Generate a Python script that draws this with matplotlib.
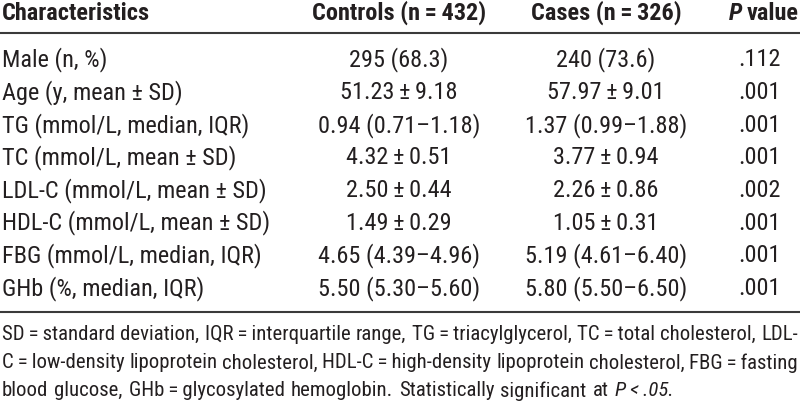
import matplotlib.pyplot as plt

FONT = ['Roboto Condensed', 'Archivo Narrow', 'PT Sans Narrow', 'DejaVu Sans']
plt.rcParams['font.family'] = FONT
INK = '#231f20'

header = ['Characteristics', 'Controls (n\u2009=\u2009432)', 'Cases (n\u2009=\u2009326)', 'P', 'value']
labels = ['Male (n, %)', 'Age (y, mean \u00b1 SD)', 'TG (mmol/L, median, IQR)',
          'TC (mmol/L, mean \u00b1 SD)', 'LDL-C (mmol/L, mean \u00b1 SD)',
          'HDL-C (mmol/L, mean \u00b1 SD)', 'FBG (mmol/L, median, IQR)',
          'GHb (%, median, IQR)']
controls = ['295 (68.3)', '51.23\u2009\u00b1\u20099.18', '0.94 (0.71\u20131.18)', '4.32\u2009\u00b1\u20090.51',
            '2.50\u2009\u00b1\u20090.44', '1.49\u2009\u00b1\u20090.29', '4.65 (4.39\u20134.96)', '5.50 (5.30\u20135.60)']
cases = ['240 (73.6)', '57.97\u2009\u00b1\u20099.01', '1.37 (0.99\u20131.88)', '3.77\u2009\u00b1\u20090.94',
         '2.26\u2009\u00b1\u20090.86', '1.05\u2009\u00b1\u20090.31', '5.19 (4.61\u20136.40)', '5.80 (5.50\u20136.50)']
pvals = ['.112', '.001', '.001', '.001', '.002', '.001', '.001', '.001']
footnote = ('SD\u2009=\u2009standard deviation, IQR\u2009=\u2009interquartile range, '
            'TG\u2009=\u2009triacylglycerol, TC\u2009=\u2009total cholesterol, LDL-|'
            'C\u2009=\u2009low-density lipoprotein cholesterol, HDL-C\u2009=\u2009high-density '
            'lipoprotein cholesterol, FBG\u2009=\u2009fasting|'
            'blood glucose, GHb\u2009=\u2009glycosylated hemoglobin. Statistically significant at P\u2009<\u2009.05.')

fig = plt.figure(figsize=(8, 4.08), dpi=100)
ax = fig.add_axes([0, 0, 1, 1])
ax.set_xlim(0, 800)
ax.set_ylim(408, 0)
ax.axis('off')

fs = 17.5
col_x = [2, 399, 606, 760]
y_head = 13
y_rows = [60 + 32.6 * i for i in range(len(labels))]

fig.canvas.draw()
r = fig.canvas.get_renderer()

# header
ax.text(col_x[0], y_head, header[0], fontsize=fs, weight='bold', va='center', color=INK)
ax.text(col_x[1], y_head, header[1], fontsize=fs, weight='bold', va='center', ha='center', color=INK)
ax.text(col_x[2], y_head, header[2], fontsize=fs, weight='bold', va='center', ha='center', color=INK)
tp = ax.text(0, y_head, header[3], fontsize=fs, weight='bold', style='italic', va='center', color=INK)
tv = ax.text(0, y_head, header[4], fontsize=fs, weight='bold', va='center', color=INK)
wp = tp.get_window_extent(r).width
wv = tv.get_window_extent(r).width
x0 = 799 - wv - 5 - wp
tp.set_x(x0)
tv.set_x(x0 + wp + 5)

ax.plot([0, 800], [33, 33], color='#3a3a3a', lw=1.5, solid_capstyle='butt')
ax.plot([0, 800], [312, 312], color='#3a3a3a', lw=1.5, solid_capstyle='butt')

for i, y in enumerate(y_rows):
    ax.text(col_x[0], y, labels[i], fontsize=fs, va='center', color=INK)
    ax.text(col_x[1], y, controls[i], fontsize=fs, va='center', ha='center', color=INK)
    ax.text(col_x[2], y, cases[i], fontsize=fs, va='center', ha='center', color=INK)
    ax.text(col_x[3], y, pvals[i], fontsize=fs, va='center', ha='center', color=INK)

# footnote, justified word by word; font shrunk until the longest line fits
fn_y = [334, 363, 391]
lines = [ln.split(' ') for ln in footnote.split('|')]
arts = []
for k, words in enumerate(lines):
    row = []
    for w in words:
        st = 'italic' if w.startswith('P\u2009') else 'normal'
        row.append(ax.text(0, fn_y[k], w, fontsize=fs, style=st, va='center', color=INK))
    arts.append(row)

need = max(sum(a.get_window_extent(r).width for a in row) + 6 * (len(row) - 1)
           for row in arts[:-1])
fs_fn = min(fs, fs * 796 / need)
for row in arts:
    for a in row:
        a.set_fontsize(fs_fn)

for k, row in enumerate(arts):
    widths = [a.get_window_extent(r).width for a in row]
    if k < len(arts) - 1:
        gap = (798 - 2 - sum(widths)) / (len(row) - 1)
    else:
        gap = 6
    x = 2
    for a, w in zip(row, widths):
        a.set_x(x)
        x += w + gap

fig.savefig('out.png', dpi=100)
